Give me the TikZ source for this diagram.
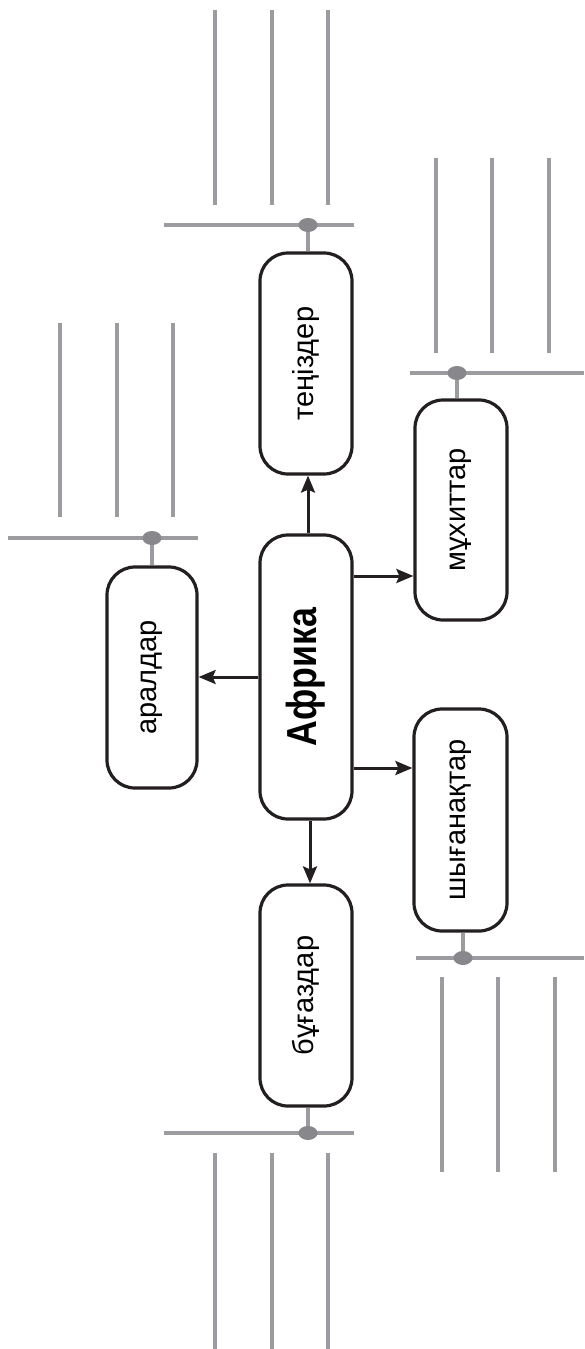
\documentclass[tikz,border=0pt]{standalone}
\usepackage{fontspec}
\setmainfont{Liberation Sans}
\newfontfamily\boldnarrow[FakeStretch=0.85]{Liberation Sans Bold}
\usetikzlibrary{arrows.meta,shapes.geometric}
\definecolor{gline}{RGB}{155,155,160}
\definecolor{gdot}{RGB}{135,135,140}
\definecolor{ink}{RGB}{35,31,32}
\tikzset{
  box/.style={draw=ink, line width=3.2pt, rounded corners=28pt, fill=white, inner sep=0pt, font=\fontsize{29}{29}\selectfont},
  arr/.style={draw=ink, line width=3pt, -{Stealth[length=17pt,width=14pt,inset=3pt]}},
  gl/.style={draw=gline, line width=3.2pt},
  gdotst/.style={fill=gdot, draw=none, ellipse, minimum width=19pt, minimum height=14pt, inner sep=0pt}
}
\begin{document}
\begin{tikzpicture}[x=1pt,y=-1pt]
\useasboundingbox[fill=white] (0,0) rectangle (584,1349);
% boxes
\node[box, minimum width=92pt, minimum height=284pt] (afr) at (306,677) {\rotatebox{90}{\boldnarrow\fontsize{42}{42}\selectfont Африка}};
\node[box, minimum width=92pt, minimum height=221pt] (ten) at (306,363.5) {\rotatebox{90}{теңіздер}};
\node[box, minimum width=92pt, minimum height=221pt] (bug) at (306,995.5) {\rotatebox{90}{бұғаздар}};
\node[box, minimum width=90pt, minimum height=221pt] (aral) at (152,677.5) {\rotatebox{90}{аралдар}};
\node[box, minimum width=92pt, minimum height=220pt] (muh) at (461,510) {\rotatebox{90}{мұхиттар}};
\node[box, minimum width=93pt, minimum height=222pt] (shy) at (460.5,820) {\rotatebox{90}{шығанақтар}};
% arrows
\draw[arr] (afr.north -| 308,0) -- (ten.south -| 308,0);
\draw[arr] (afr.south -| 310,0) -- (bug.north -| 310,0);
\draw[arr] (afr.west |- 0,677) -- (aral.east |- 0,677);
\draw[arr] (afr.east |- 0,576) -- (muh.west |- 0,576);
\draw[arr] (afr.east |- 0,768) -- (shy.west |- 0,768);
% teniz group
\coordinate (tdot) at (308,225);
\draw[gl] (ten.north -| tdot) -- (tdot);
\draw[gl] (164,225) -- (354,225);
\foreach \x in {215,272,328} \draw[gl] (\x,10) -- (\x,205);
\node[gdotst] (tdn) at (tdot) {};
% muhit group
\coordinate (mdot) at (457,373);
\draw[gl] (muh.north -| mdot) -- (mdot);
\draw[gl] (410,373) -- (584,373);
\foreach \x in {436,492,549} \draw[gl] (\x,158) -- (\x,353);
\node[gdotst] (mdn) at (mdot) {};
% aral group
\coordinate (adot) at (152,538);
\draw[gl] (aral.north -| adot) -- (adot);
\draw[gl] (8,538) -- (198,538);
\foreach \x in {60,117,173} \draw[gl] (\x,323) -- (\x,517);
\node[gdotst] (adn) at (adot) {};
% bugaz group
\coordinate (bdot) at (308,1133);
\draw[gl] (bug.south -| bdot) -- (bdot);
\draw[gl] (164,1133) -- (354,1133);
\foreach \x in {215,272,328} \draw[gl] (\x,1153) -- (\x,1349);
\node[gdotst] (bdn) at (bdot) {};
% shyganak group
\coordinate (sdot) at (463,958);
\draw[gl] (shy.south -| sdot) -- (sdot);
\draw[gl] (416,958) -- (584,958);
\foreach \x in {442,498,555} \draw[gl] (\x,977) -- (\x,1172);
\node[gdotst] (sdn) at (sdot) {};
\end{tikzpicture}
\end{document}
